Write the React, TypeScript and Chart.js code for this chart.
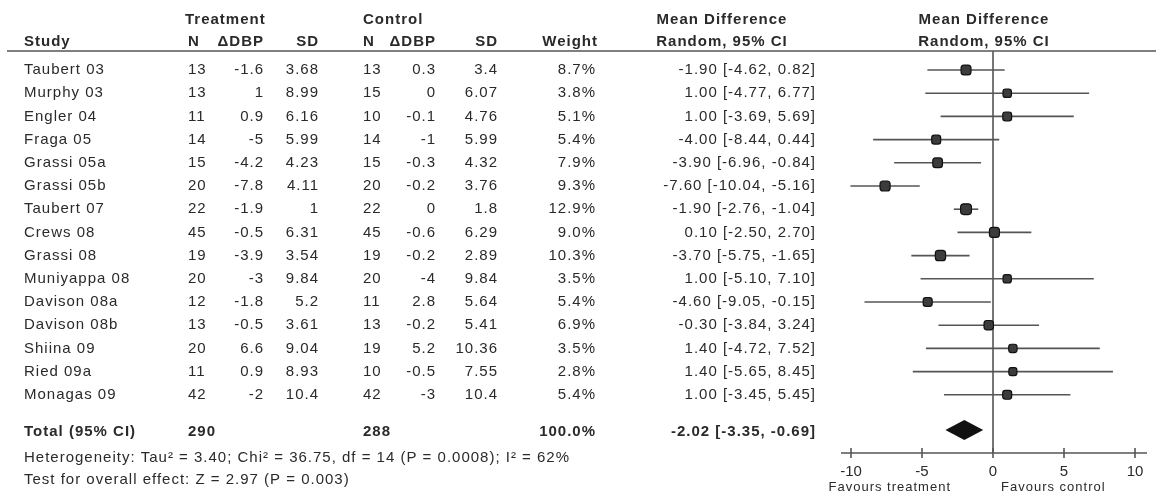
import React, { useEffect, useRef } from "react";
import { Chart, registerables } from "chart.js";

Chart.register(...registerables);

// ---------------- DATA ----------------
const studies = [
  "Taubert 03", "Murphy 03", "Engler 04", "Fraga 05", "Grassi 05a", "Grassi 05b", "Taubert 07",
  "Crews 08", "Grassi 08", "Muniyappa 08", "Davison 08a", "Davison 08b", "Shiina 09", "Ried 09a", "Monagas 09",
];
const trtN = [13, 13, 11, 14, 15, 20, 22, 45, 19, 20, 12, 13, 20, 11, 42];
const trtDBP = [-1.6, 1, 0.9, -5, -4.2, -7.8, -1.9, -0.5, -3.9, -3, -1.8, -0.5, 6.6, 0.9, -2];
const trtSD = [3.68, 8.99, 6.16, 5.99, 4.23, 4.11, 1, 6.31, 3.54, 9.84, 5.2, 3.61, 9.04, 8.93, 10.4];
const ctlN = [13, 15, 10, 14, 15, 20, 22, 45, 19, 20, 11, 13, 19, 10, 42];
const ctlDBP = [0.3, 0, -0.1, -1, -0.3, -0.2, 0, -0.6, -0.2, -4, 2.8, -0.2, 5.2, -0.5, -3];
const ctlSD = [3.4, 6.07, 4.76, 5.99, 4.32, 3.76, 1.8, 6.29, 2.89, 9.84, 5.64, 5.41, 10.36, 7.55, 10.4];
const weights = [8.7, 3.8, 5.1, 5.4, 7.9, 9.3, 12.9, 9.0, 10.3, 3.5, 5.4, 6.9, 3.5, 2.8, 5.4];
const meanDiff = [-1.9, 1.0, 1.0, -4.0, -3.9, -7.6, -1.9, 0.1, -3.7, 1.0, -4.6, -0.3, 1.4, 1.4, 1.0];
const ciLow = [-4.62, -4.77, -3.69, -8.44, -6.96, -10.04, -2.76, -2.5, -5.75, -5.1, -9.05, -3.84, -4.72, -5.65, -3.45];
const ciHigh = [0.82, 6.77, 5.69, 0.44, -0.84, -5.16, -1.04, 2.7, -1.65, 7.1, -0.15, 3.24, 7.52, 8.45, 5.45];

const totalLabel = "Total (95% CI)";
const totalTrtN = 290;
const totalCtlN = 288;
const totalWeight = 100.0;
const totalMD = -2.02;
const totalLow = -3.35;
const totalHigh = -0.69;

const xTicks = [-10, -5, 0, 5, 10];
const heterogeneityText = "Heterogeneity: Tau\u00b2 = 3.40; Chi\u00b2 = 36.75, df = 14 (P = 0.0008); I\u00b2 = 62%";
const overallEffectText = "Test for overall effect: Z = 2.97 (P = 0.003)";
const favoursLeft = "Favours treatment";
const favoursRight = "Favours control";

// ---------------- LAYOUT / STYLE ----------------
const W = 1156;
const H = 495;
const FONT = "'Liberation Sans', Arial, Helvetica, sans-serif";
const FS = 15;
const FAV_FS = 13;
const LS = "1px";
const TEXT = "#2a2a2a";
const LINE = "#555";
const TOTAL_ROW = 15.6;

const COL = {
  study: 24, tN: 188, tDBP: 264, tSD: 319, cN: 363, cDBP: 436, cSD: 498,
  weight: 596, ci: 816, ciHead: 722, plotHead: 984,
};
const HEAD1_Y = 20;
const HEAD2_Y = 42;
const HET_Y = 458;
const TEST_Y = 480;
const FAV_Y = 487;

const fmt = (v: number) => String(v);
const fmtCI = (m: number, l: number, h: number) => `${m.toFixed(2)} [${l.toFixed(2)}, ${h.toFixed(2)}]`;

function drawText(ctx: CanvasRenderingContext2D, s: string, x: number, y: number, align: CanvasTextAlign, bold = false, size = FS) {
  ctx.font = `${bold ? "bold " : ""}${size}px ${FONT}`;
  ctx.textAlign = align;
  ctx.textBaseline = "middle";
  ctx.fillText(s, x, y);
}

const forestPlugin = {
  id: "forestPlot",
  beforeDatasetsDraw(chart: any) {
    const { ctx, chartArea, scales } = chart;
    const x = scales.x;
    const y = scales.y;
    ctx.save();
    // header rule
    ctx.strokeStyle = LINE;
    ctx.lineWidth = 1.5;
    ctx.beginPath();
    ctx.moveTo(7, chartArea.top);
    ctx.lineTo(W, chartArea.top);
    ctx.stroke();
    // zero line
    const x0 = x.getPixelForValue(0);
    ctx.lineWidth = 1.6;
    ctx.beginPath();
    ctx.moveTo(x0, chartArea.top);
    ctx.lineTo(x0, chartArea.bottom);
    ctx.stroke();
    // whiskers
    ctx.strokeStyle = "#555";
    ctx.lineWidth = 1.6;
    studies.forEach((_, i) => {
      const yy = y.getPixelForValue(i);
      ctx.beginPath();
      ctx.moveTo(x.getPixelForValue(ciLow[i]), yy);
      ctx.lineTo(x.getPixelForValue(ciHigh[i]), yy);
      ctx.stroke();
    });
    // axis line + ticks
    const ay = chartArea.bottom;
    ctx.strokeStyle = LINE;
    ctx.lineWidth = 1.6;
    ctx.beginPath();
    ctx.moveTo(chartArea.left - 10, ay);
    ctx.lineTo(chartArea.right + 12, ay);
    ctx.stroke();
    xTicks.forEach((t) => {
      const tx = x.getPixelForValue(t);
      ctx.beginPath();
      ctx.moveTo(tx, ay - 5);
      ctx.lineTo(tx, ay + 5);
      ctx.stroke();
    });
    ctx.restore();
  },
  afterDraw(chart: any) {
    const { ctx, scales } = chart;
    const x = scales.x;
    const y = scales.y;
    ctx.save();
    ctx.fillStyle = TEXT;
    (ctx as any).letterSpacing = LS;

    // headers
    drawText(ctx, "Treatment", COL.tN - 3, HEAD1_Y, "left", true);
    drawText(ctx, "Control", COL.cN, HEAD1_Y, "left", true);
    drawText(ctx, "Mean Difference", COL.ciHead, HEAD1_Y, "center", true);
    drawText(ctx, "Mean Difference", COL.plotHead, HEAD1_Y, "center", true);
    drawText(ctx, "Study", COL.study, HEAD2_Y, "left", true);
    drawText(ctx, "N", COL.tN, HEAD2_Y, "left", true);
    drawText(ctx, "\u0394DBP", COL.tDBP, HEAD2_Y, "right", true);
    drawText(ctx, "SD", COL.tSD, HEAD2_Y, "right", true);
    drawText(ctx, "N", COL.cN, HEAD2_Y, "left", true);
    drawText(ctx, "\u0394DBP", COL.cDBP, HEAD2_Y, "right", true);
    drawText(ctx, "SD", COL.cSD, HEAD2_Y, "right", true);
    drawText(ctx, "Weight", COL.weight + 2, HEAD2_Y, "right", true);
    drawText(ctx, "Random, 95% CI", COL.ciHead, HEAD2_Y, "center", true);
    drawText(ctx, "Random, 95% CI", COL.plotHead, HEAD2_Y, "center", true);

    // rows
    studies.forEach((s, i) => {
      const yy = y.getPixelForValue(i);
      drawText(ctx, s, COL.study, yy, "left");
      drawText(ctx, fmt(trtN[i]), COL.tN, yy, "left");
      drawText(ctx, fmt(trtDBP[i]), COL.tDBP, yy, "right");
      drawText(ctx, fmt(trtSD[i]), COL.tSD, yy, "right");
      drawText(ctx, fmt(ctlN[i]), COL.cN, yy, "left");
      drawText(ctx, fmt(ctlDBP[i]), COL.cDBP, yy, "right");
      drawText(ctx, fmt(ctlSD[i]), COL.cSD, yy, "right");
      drawText(ctx, `${weights[i].toFixed(1)}%`, COL.weight, yy, "right");
      drawText(ctx, fmtCI(meanDiff[i], ciLow[i], ciHigh[i]), COL.ci, yy, "right");
    });

    // total row
    const ty = y.getPixelForValue(TOTAL_ROW);
    drawText(ctx, totalLabel, COL.study, ty, "left", true);
    drawText(ctx, fmt(totalTrtN), COL.tN, ty, "left", true);
    drawText(ctx, fmt(totalCtlN), COL.cN, ty, "left", true);
    drawText(ctx, `${totalWeight.toFixed(1)}%`, COL.weight, ty, "right", true);
    drawText(ctx, fmtCI(totalMD, totalLow, totalHigh), COL.ci, ty, "right", true);

    drawText(ctx, heterogeneityText, COL.study, HET_Y, "left");
    drawText(ctx, overallEffectText, COL.study, TEST_Y, "left");

    // favours labels
    const x0 = x.getPixelForValue(0);
    drawText(ctx, favoursLeft, x0 - 42, FAV_Y, "right", false, FAV_FS);
    drawText(ctx, favoursRight, x0 + 8, FAV_Y, "left", false, FAV_FS);

    // diamond
    const dy = y.getPixelForValue(TOTAL_ROW) - 2;
    ctx.fillStyle = "#111";
    ctx.beginPath();
    ctx.moveTo(x.getPixelForValue(totalLow), dy);
    ctx.lineTo(x.getPixelForValue(totalMD), dy - 10);
    ctx.lineTo(x.getPixelForValue(totalHigh), dy);
    ctx.lineTo(x.getPixelForValue(totalMD), dy + 10);
    ctx.closePath();
    ctx.fill();
    ctx.restore();
  },
};

export default function App() {
  const ref = useRef<HTMLCanvasElement | null>(null);
  useEffect(() => {
    if (!ref.current) return;
    const chart = new Chart(ref.current, {
      type: "scatter",
      data: {
        datasets: [
          {
            data: meanDiff.map((m, i) => ({ x: m, y: i })),
            pointStyle: "rectRounded",
            pointRadius: weights.map((w) => (4.6 + Math.sqrt(w) * 1.2) / Math.SQRT2),
            backgroundColor: "#3c3c3c",
            borderColor: "#111",
            borderWidth: 1.2,
          },
        ],
      },
      options: {
        animation: false,
        responsive: false,
        devicePixelRatio: 1,
        events: [],
        layout: { padding: { left: 851, right: 21, top: 51, bottom: 0 } },
        plugins: { legend: { display: false }, tooltip: { enabled: false } },
        scales: {
          x: {
            type: "linear",
            position: "bottom",
            min: -10,
            max: 10,
            afterFit: (s: any) => {
              s.height = 42;
            },
            afterBuildTicks: (s: any) => {
              s.ticks = xTicks.map((v) => ({ value: v }));
            },
            grid: { display: false, drawTicks: false },
            border: { display: false },
            ticks: {
              color: TEXT,
              font: { family: FONT, size: FS },
              padding: 10,
              autoSkip: false,
              maxRotation: 0,
              callback: (v: any) => String(v),
            },
          },
          y: {
            display: false,
            reverse: true,
            min: -0.82,
            max: 16.51,
          },
        },
      },
      plugins: [forestPlugin],
    });
    return () => chart.destroy();
  }, []);
  return (
    <div style={{ position: "absolute", left: 0, top: 0, width: W, height: H, background: "#fff" }}>
      <canvas ref={ref} width={W} height={H} style={{ display: "block", width: W, height: H }} />
    </div>
  );
}
